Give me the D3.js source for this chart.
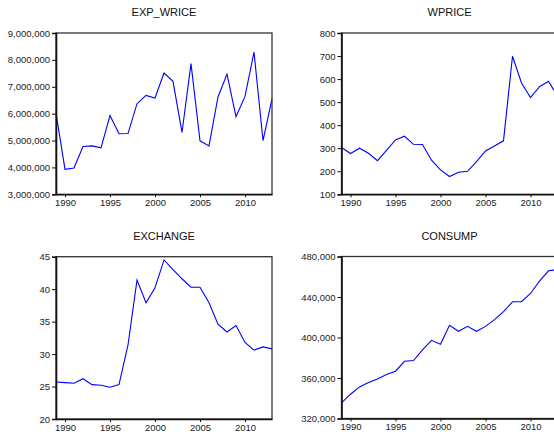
<!DOCTYPE html>
<html><head><meta charset="utf-8">
<script src="https://cdn.jsdelivr.net/npm/d3@7"></script>
<style>html,body{margin:0;padding:0;background:#fff;overflow:hidden}</style>
</head><body>
<svg id="c" width="554" height="435"></svg>
<script>
const years = d3.range(1989, 2014);
const expWrice = [6020000,3930000,3980000,4780000,4800000,4730000,5930000,5250000,5260000,6370000,6680000,6580000,7510000,7200000,5300000,7860000,4990000,4800000,6620000,7470000,5890000,6640000,8290000,5000000,6550000];
const wprice = [303,277,300,278,246,291,336,352,317,316,248,206,177,196,200,242,288,310,332,699,583,520,567,591,525];
const exchange = [25.7,25.6,25.5,26.2,25.3,25.2,24.9,25.3,31.4,41.4,37.9,40.2,44.5,43.0,41.6,40.3,40.3,37.9,34.6,33.4,34.4,31.8,30.6,31.1,30.8];
const consump = [335500,344000,351200,355500,359100,363400,366700,376500,377200,387700,397200,393300,412000,406100,411000,406100,411000,417600,425500,435300,435300,443500,455700,465900,466900];

const titles = ["EXP_WRICE","WPRICE","EXCHANGE","CONSUMP"];
const yDomains = [[3000000,9000000],[100,800],[20,45],[320000,480000]];
const yTicks = [[3000000,4000000,5000000,6000000,7000000,8000000,9000000],[100,200,300,400,500,600,700,800],[20,25,30,35,40,45],[320000,360000,400000,440000,480000]];
const xTicks = [1990,1995,2000,2005,2010];
const series = [expWrice, wprice, exchange, consump];

const panels = [
  {x0:56, y0:33, y1:194.3},
  {x0:341.5, y0:33, y1:194.3},
  {x0:56, y0:256.7, y1:419},
  {x0:341.5, y0:256.5, y1:418.5}
];
const fmt = d3.format(",");
const svg = d3.select("#c");
const font = "Liberation Sans, Arial, sans-serif";

panels.forEach((p, i) => {
  const x = d3.scaleLinear().domain([1989, 2013]).range([p.x0, p.x0 + 216]);
  const y = d3.scaleLinear().domain(yDomains[i]).range([p.y1, p.y0]);
  const g = svg.append("g");
  // title
  g.append("text").attr("x", p.x0 + 108).attr("y", p.y0 - 17)
    .attr("text-anchor","middle").attr("font-family",font).attr("font-size",11)
    .attr("fill","#111").text(titles[i]);
  // data line
  const line = d3.line().x((d,k)=>x(years[k])).y(d=>y(d));
  g.append("path").datum(series[i]).attr("d", line)
    .attr("fill","none").attr("stroke","#0000ff").attr("stroke-width",1.1);
  // frame
  g.append("rect").attr("x", p.x0).attr("y", p.y0).attr("width",216).attr("height", p.y1-p.y0)
    .attr("fill","none").attr("stroke","#333").attr("stroke-width",1.3);
  // y axis
  const ya = g.append("g").attr("transform",`translate(${p.x0},0)`)
    .call(d3.axisLeft(y).tickValues(yTicks[i]).tickFormat(fmt).tickSize(4).tickPadding(2));
  ya.select(".domain").attr("stroke","#111").attr("stroke-width",1.6);
  ya.selectAll(".tick line").attr("stroke","#111");
  ya.selectAll("text").attr("font-family",font).attr("font-size",9.5).attr("fill","#222");
  // x axis
  const xa = g.append("g").attr("transform",`translate(0,${p.y1})`)
    .call(d3.axisBottom(x).tickValues(xTicks).tickFormat(d3.format("d")).tickSize(3).tickPadding(2).tickSizeOuter(0));
  xa.select(".domain").attr("stroke","#111").attr("stroke-width",1.6);
  xa.selectAll(".tick line").attr("stroke","#111");
  xa.selectAll("text").attr("font-family",font).attr("font-size",9.5).attr("fill","#222");
});
</script>
</body></html>
